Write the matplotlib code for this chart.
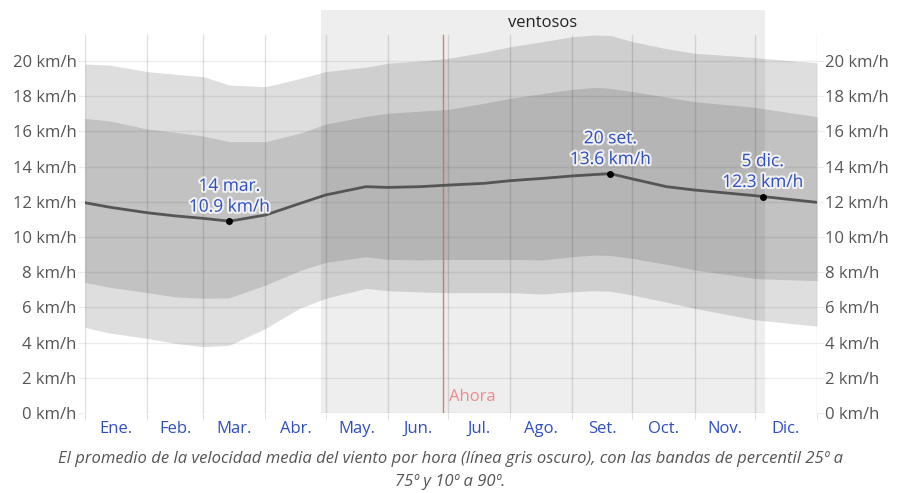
import numpy as np
import matplotlib
matplotlib.use('Agg')
import matplotlib.pyplot as plt
import matplotlib.patheffects as pe

plt.rcParams['font.family'] = ['Open Sans', 'DejaVu Sans']

# day of year (0 = 1 Jan) at which each series was sampled
days = [0, 12, 31, 45, 59, 72, 90, 107, 120, 140, 151, 167, 181, 199, 212,
        228, 243, 254, 262, 273, 290, 304, 334, 338, 365]

# average hourly wind speed, km/h
mean_speed = [11.95, 11.7, 11.38, 11.2, 11.06, 10.9, 11.25, 11.9, 12.39, 12.86,
              12.82, 12.86, 12.95, 13.05, 13.2, 13.33, 13.47, 13.55, 13.6, 13.3,
              12.86, 12.67, 12.35, 12.3, 11.97]
p10 = [4.87, 4.55, 4.24, 3.96, 3.77, 3.85, 4.81, 5.95, 6.52, 7.08, 6.95, 6.88,
       6.84, 6.84, 6.84, 6.76, 6.89, 6.95, 6.92, 6.7, 6.3, 5.95, 5.3, 5.25, 4.94]
p25 = [7.42, 7.15, 6.84, 6.6, 6.52, 6.55, 7.27, 8.09, 8.56, 8.88, 8.73, 8.7,
       8.73, 8.73, 8.73, 8.7, 8.88, 8.98, 8.95, 8.79, 8.45, 8.13, 7.65, 7.62, 7.52]
p75 = [16.74, 16.6, 16.14, 15.95, 15.74, 15.42, 15.42, 15.89, 16.42, 16.85,
       17.03, 17.15, 17.25, 17.6, 17.88, 18.15, 18.39, 18.5, 18.45, 18.26,
       17.95, 17.69, 17.37, 17.3, 16.84]
p90 = [19.83, 19.77, 19.4, 19.25, 19.11, 18.64, 18.54, 19.0, 19.4, 19.65,
       19.87, 20.0, 20.15, 20.5, 20.81, 21.1, 21.38, 21.48, 21.45, 21.1,
       20.7, 20.44, 20.2, 20.15, 19.9]

month_starts = [0, 31, 59, 90, 120, 151, 181, 212, 243, 273, 304, 334, 365]
month_labels = ['Ene.', 'Feb.', 'Mar.', 'Abr.', 'May.', 'Jun.',
                'Jul.', 'Ago.', 'Set.', 'Oct.', 'Nov.', 'Dic.']

windy_start, windy_end = 117.7, 339.0
now_day = 178.3

ann_days = [72, 262, 338]
ann_vals = [10.9, 13.6, 12.3]
ann_dates = ['14 mar.', '20 set.', '5 dic.']

yticks = [0, 2, 4, 6, 8, 10, 12, 14, 16, 18, 20]

fig = plt.figure(figsize=(8.99, 4.93), dpi=100)
ax = fig.add_axes([85/899, 80/493, 732/899, 403/493])
ymax = 22.9
ax.set_xlim(0, 365)
ax.set_ylim(0, ymax)

d = np.array(days)
ax.fill_between(d, p10, p90, color='#dedede', lw=0, zorder=1)
ax.fill_between(d, p25, p75, color='#c2c2c2', lw=0, zorder=1.1)
ax.axvspan(windy_start, windy_end, color='black', alpha=0.065, lw=0, zorder=2)

grid_top = 21.5 / ymax
for m in month_starts:
    ax.axvline(m, ymin=0, ymax=grid_top, color='black', alpha=0.12, lw=1, zorder=3)
for y in yticks:
    ax.axhline(y, color='black', alpha=0.07, lw=1, zorder=3)

ax.axvline(now_day, ymin=0, ymax=grid_top, color='#e05a5a', lw=1, alpha=0.8, zorder=4)
ax.text(now_day + 3, 0.45, 'Ahora', color='#f08a8a', fontsize=12, ha='left',
        va='bottom', zorder=5)

ax.plot(d, mean_speed, color='#555555', lw=2, zorder=5)

halo = [pe.withStroke(linewidth=3, foreground='white', alpha=0.8)]
for x, v, lab in zip(ann_days, ann_vals, ann_dates):
    ax.plot(x, v, 'o', color='black', ms=4, zorder=6)
    ax.annotate('%s\n%.1f km/h' % (lab, v), (x, v), xytext=(0, 4),
                textcoords='offset points', ha='center', va='bottom',
                color='#2f4fbf', fontsize=12.5, linespacing=1.4,
                path_effects=halo, zorder=7)

ax.text((windy_start + windy_end) / 2, 22.15, 'ventosos', ha='center',
        va='center', fontsize=12, color='#222222')

for s in ax.spines.values():
    s.set_visible(False)

ax.set_yticks(yticks)
ax.set_yticklabels(['%d km/h' % y for y in yticks])
ax.tick_params(axis='y', which='both', left=True, right=True, labelleft=True,
               labelright=True, length=5, color='#ebebeb', labelsize=12,
               labelcolor='#555555', pad=1)

mid = [(a + b) / 2 for a, b in zip(month_starts[:-1], month_starts[1:])]
ax.set_xticks(mid)
ax.set_xticklabels(month_labels)
ax.set_xticks(month_starts, minor=True)
ax.tick_params(axis='x', which='major', length=0, labelsize=12,
               labelcolor='#2f4fbf', pad=6)
ax.tick_params(axis='x', which='minor', length=5, color='#dcdcdc')

fig.text(450/899, 1 - 459/493,
         'El promedio de la velocidad media del viento por hora (línea gris oscuro), con las bandas de percentil 25º a',
         ha='center', va='center', fontsize=12, style='italic', color='#555555')
fig.text(450/899, 1 - 482/493, '75º y 10º a 90º.',
         ha='center', va='center', fontsize=12, style='italic', color='#555555')

fig.savefig('out.png', dpi=100)
